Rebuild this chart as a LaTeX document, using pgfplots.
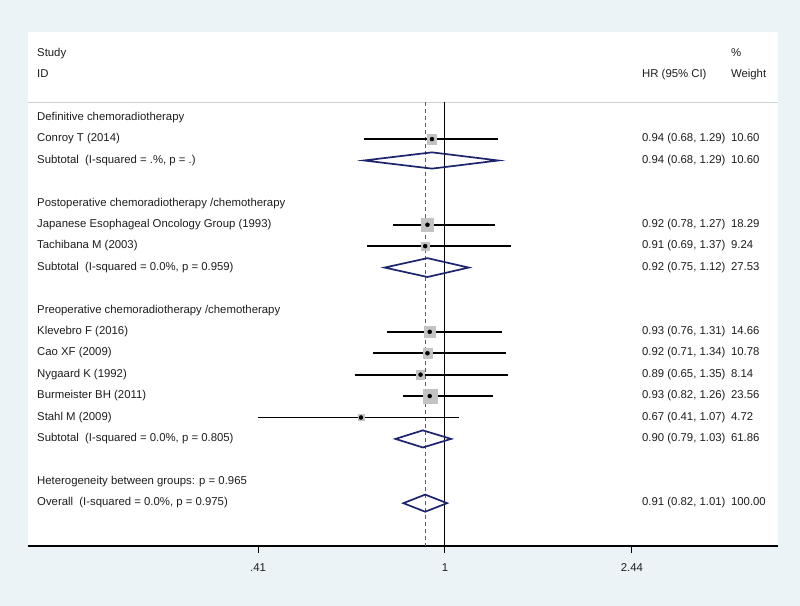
\documentclass[border=0pt]{standalone}
\usepackage{fontspec}
\setmainfont{Liberation Sans}
\usepackage{pgfplots}
\usepackage{pgfplotstable}
\pgfplotsset{compat=1.18}

\definecolor{bgblue}{RGB}{235,243,246}
\definecolor{txt}{RGB}{30,30,30}
\definecolor{boxgray}{RGB}{195,195,195}
\definecolor{dia}{RGB}{28,36,110}
\definecolor{refred}{RGB}{190,50,50}
\definecolor{sep}{RGB}{205,210,212}

\tikzset{lab/.style={font=\fontsize{11.4}{13}\selectfont, text=txt,
    anchor=west, inner xsep=0pt, inner ysep=0pt, text height=8bp, text depth=2.5bp}}

% row, HR, lower, upper, weight
\pgfplotstableread{
row hr   lo   hi   w
2   0.94 0.68 1.29 10.60
6   0.92 0.78 1.27 18.29
7   0.91 0.69 1.37 9.24
11  0.93 0.76 1.31 14.66
12  0.92 0.71 1.34 10.78
13  0.89 0.65 1.35 8.14
14  0.93 0.82 1.26 23.56
15  0.67 0.41 1.07 4.72
}\studies

\newcommand{\xL}{0.1428}  % study column
\newcommand{\xH}{2.560}   % HR column
\newcommand{\xW}{3.913}   % weight column

\begin{document}
\begin{tikzpicture}[x=1bp,y=1bp]
\fill[bgblue] (0,0) rectangle (800,606);
\begin{axis}[
  at={(28bp,60bp)}, anchor=south west,
  scale only axis, width=750bp, height=514bp,
  xmode=log, xmin=0.1368, xmax=4.899,
  ymin=-21, ymax=3,
  axis background/.style={fill=white},
  axis x line*=bottom, axis y line=none,
  x axis line style={-, black, line width=1.4bp},
  xtick={0.41,1,2.44}, xticklabels={.41,1,2.44},
  xminorticks=false,
  tick align=outside, major tick length=7bp,
  xtick style={black, line width=1bp},
  ticklabel style={font=\fontsize{11.4}{13}\selectfont, text=txt},
  xticklabel style={yshift=-7bp},
  clip=false,
]
% header rule and reference lines
\addplot[sep, line width=0.8bp] coordinates {(0.1368,-0.28) (4.899,-0.28)};
% study boxes
\addplot[scatter, only marks, mark=square*,
  scatter/use mapped color={draw=boxgray, fill=boxgray},
  visualization depends on={1.45*sqrt(\thisrow{w}) \as \msz},
  scatter/@pre marker code/.append style={/tikz/mark size=\msz}]
  table[x=hr, y expr=-\thisrow{row}] {\studies};
\addplot[black, line width=1bp] coordinates {(1,-0.28) (1,-21)};
\addplot[refred, line width=1.2bp, dash pattern=on 4bp off 3bp] coordinates {(0.91,-0.28) (0.91,-21)};
% confidence intervals
\addplot[black, line width=1.9bp, unbounded coords=jump] coordinates {
  (0.68,-2) (1.29,-2) (nan,nan)
  (0.78,-6) (1.27,-6) (nan,nan)
  (0.69,-7) (1.37,-7) (nan,nan)
  (0.76,-11) (1.31,-11) (nan,nan)
  (0.71,-12) (1.34,-12) (nan,nan)
  (0.65,-13) (1.35,-13) (nan,nan)
  (0.82,-14) (1.26,-14) (nan,nan)
  (0.41,-15) (1.07,-15)
};
\addplot[only marks, mark=*, mark size=2, black] table[x=hr, y expr=-\thisrow{row}] {\studies};
% pooled estimates
\addplot[dia, line width=1.7bp] coordinates {(0.68,-3) (0.94,-2.62) (1.29,-3) (0.94,-3.38)} -- cycle;
\addplot[dia, line width=1.7bp] coordinates {(0.75,-8) (0.92,-7.56) (1.12,-8) (0.92,-8.44)} -- cycle;
\addplot[dia, line width=1.7bp] coordinates {(0.79,-16) (0.90,-15.6) (1.03,-16) (0.90,-16.4)} -- cycle;
\addplot[dia, line width=1.7bp] coordinates {(0.82,-19) (0.91,-18.6) (1.01,-19) (0.91,-19.4)} -- cycle;

% text columns
\node[lab] at (axis cs:\xL,2) {Study};
\node[lab] at (axis cs:\xL,1) {ID};
\node[lab] at (axis cs:\xW,2) {\%};
\node[lab] at (axis cs:\xH,1) {HR (95\% CI)};
\node[lab] at (axis cs:\xW,1) {Weight};

\node[lab] at (axis cs:\xL,-1) {Definitive chemoradiotherapy};
\node[lab] at (axis cs:\xL,-2) {Conroy T (2014)};
\node[lab] at (axis cs:\xL,-3) {Subtotal\ \ (I-squared = .\%, p = .)};
\node[lab] at (axis cs:\xL,-5) {Postoperative chemoradiotherapy /chemotherapy};
\node[lab] at (axis cs:\xL,-6) {Japanese Esophageal Oncology Group (1993)};
\node[lab] at (axis cs:\xL,-7) {Tachibana M (2003)};
\node[lab] at (axis cs:\xL,-8) {Subtotal\ \ (I-squared = 0.0\%, p = 0.959)};
\node[lab] at (axis cs:\xL,-10) {Preoperative chemoradiotherapy /chemotherapy};
\node[lab] at (axis cs:\xL,-11) {Klevebro F (2016)};
\node[lab] at (axis cs:\xL,-12) {Cao XF (2009)};
\node[lab] at (axis cs:\xL,-13) {Nygaard K (1992)};
\node[lab] at (axis cs:\xL,-14) {Burmeister BH (2011)};
\node[lab] at (axis cs:\xL,-15) {Stahl M (2009)};
\node[lab] at (axis cs:\xL,-16) {Subtotal\ \ (I-squared = 0.0\%, p = 0.805)};
\node[lab] at (axis cs:\xL,-18) {Heterogeneity between groups: p = 0.965};
\node[lab] at (axis cs:\xL,-19) {Overall\ \ (I-squared = 0.0\%, p = 0.975)};

\node[lab] at (axis cs:\xH,-2) {0.94 (0.68, 1.29)};
\node[lab] at (axis cs:\xH,-3) {0.94 (0.68, 1.29)};
\node[lab] at (axis cs:\xH,-6) {0.92 (0.78, 1.27)};
\node[lab] at (axis cs:\xH,-7) {0.91 (0.69, 1.37)};
\node[lab] at (axis cs:\xH,-8) {0.92 (0.75, 1.12)};
\node[lab] at (axis cs:\xH,-11) {0.93 (0.76, 1.31)};
\node[lab] at (axis cs:\xH,-12) {0.92 (0.71, 1.34)};
\node[lab] at (axis cs:\xH,-13) {0.89 (0.65, 1.35)};
\node[lab] at (axis cs:\xH,-14) {0.93 (0.82, 1.26)};
\node[lab] at (axis cs:\xH,-15) {0.67 (0.41, 1.07)};
\node[lab] at (axis cs:\xH,-16) {0.90 (0.79, 1.03)};
\node[lab] at (axis cs:\xH,-19) {0.91 (0.82, 1.01)};

\node[lab] at (axis cs:\xW,-2) {10.60};
\node[lab] at (axis cs:\xW,-3) {10.60};
\node[lab] at (axis cs:\xW,-6) {18.29};
\node[lab] at (axis cs:\xW,-7) {9.24};
\node[lab] at (axis cs:\xW,-8) {27.53};
\node[lab] at (axis cs:\xW,-11) {14.66};
\node[lab] at (axis cs:\xW,-12) {10.78};
\node[lab] at (axis cs:\xW,-13) {8.14};
\node[lab] at (axis cs:\xW,-14) {23.56};
\node[lab] at (axis cs:\xW,-15) {4.72};
\node[lab] at (axis cs:\xW,-16) {61.86};
\node[lab] at (axis cs:\xW,-19) {100.00};
\end{axis}
\end{tikzpicture}
\end{document}
